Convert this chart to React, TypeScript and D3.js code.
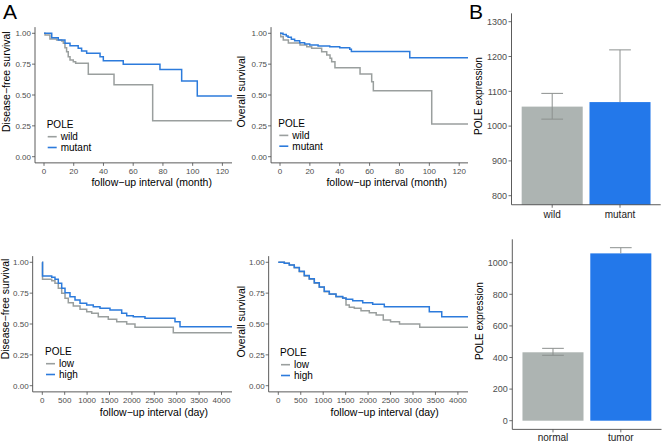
import React from 'react';
import * as d3 from 'd3';

const FONT = '"Liberation Sans", Arial, Helvetica, sans-serif';
const GREY_LINE = '#9a9f9e';
const BLUE_LINE = '#2c7bdc';
const GREY_BAR = '#adb4b2';
const BLUE_BAR = '#2378ea';
const AXIS = '#4a4a4a';
const TICK_TXT = '#4d4d4d';
const ERR = '#8c908f';

// ---- Panel A, top: months ----
const monthTicks = [0, 20, 40, 60, 80, 100, 120];
const survTicks = [0, 0.25, 0.5, 0.75, 1];
const survTickLabels = ['0.00', '0.25', '0.50', '0.75', '1.00'];

const dfsWildTime = [0, 0.7, 4, 8.5, 11.9, 13, 14.1, 15.2, 16.3, 17.5, 19.7, 21.3, 29.8, 47.1, 73.1, 150];
const dfsWildSurv = [1, 0.986, 0.954, 0.946, 0.938, 0.919, 0.883, 0.851, 0.81, 0.784, 0.77, 0.757, 0.668, 0.583, 0.292, 0.292];
const dfsMutTime = [0, 5.2, 9.6, 14.1, 17.5, 23, 25.3, 28.7, 37.7, 39.9, 53.3, 78, 92.6, 103.1, 150];
const dfsMutSurv = [1, 0.964, 0.946, 0.919, 0.9, 0.878, 0.857, 0.838, 0.81, 0.778, 0.749, 0.706, 0.613, 0.492, 0.492];

const osWildTime = [0, 0.5, 2.2, 5.6, 13.4, 17.9, 21.2, 27.9, 31.3, 33.5, 34.6, 36.8, 53.6, 61.4, 62.5, 101.6, 150];
const osWildSurv = [1, 0.973, 0.946, 0.922, 0.905, 0.891, 0.878, 0.851, 0.824, 0.797, 0.77, 0.721, 0.67, 0.608, 0.535, 0.265, 0.265];
const osMutTime = [0, 2, 4.2, 5.4, 7.6, 9.8, 13.2, 16.5, 19.9, 25.5, 33.3, 40, 46.7, 47.8, 86.9, 150];
const osMutSurv = [1, 0.99, 0.978, 0.967, 0.951, 0.94, 0.924, 0.913, 0.905, 0.897, 0.891, 0.883, 0.87, 0.853, 0.802, 0.802];

// ---- Panel A, bottom: days ----
const dayTicks = [0, 500, 1000, 1500, 2000, 2500, 3000, 3500, 4000];

const dfsLowTime = [0, 5, 210, 283, 357, 433, 507, 580, 692, 842, 991, 1103, 1250, 1473, 1661, 1884, 2069, 2924, 5000];
const dfsLowSurv = [1, 0.862, 0.851, 0.83, 0.789, 0.749, 0.708, 0.673, 0.646, 0.619, 0.6, 0.587, 0.559, 0.538, 0.519, 0.5, 0.473, 0.43, 0.43];
const dfsHighTime = [0, 5, 210, 283, 357, 433, 507, 618, 730, 842, 991, 1138, 1288, 1511, 1772, 1884, 2031, 2292, 2962, 3074, 5000];
const dfsHighSurv = [1, 0.889, 0.878, 0.862, 0.83, 0.789, 0.754, 0.721, 0.694, 0.668, 0.654, 0.64, 0.627, 0.613, 0.587, 0.567, 0.559, 0.546, 0.519, 0.478, 0.478];

const osLowTime = [0, 134, 245, 356, 468, 579, 690, 802, 913, 1024, 1136, 1285, 1434, 1508, 1581, 1693, 1842, 2027, 2180, 2338, 2500, 2700, 3150, 5000];
const osLowSurv = [1, 0.992, 0.978, 0.956, 0.924, 0.889, 0.862, 0.83, 0.797, 0.762, 0.741, 0.721, 0.708, 0.654, 0.635, 0.627, 0.608, 0.592, 0.573, 0.532, 0.519, 0.5, 0.473, 0.473];
const osHighTime = [0, 134, 245, 356, 468, 579, 690, 802, 913, 1024, 1136, 1285, 1434, 1508, 1657, 1880, 2102, 2361, 3363, 3640, 5000];
const osHighSurv = [1, 0.992, 0.978, 0.958, 0.928, 0.894, 0.866, 0.834, 0.8, 0.765, 0.744, 0.723, 0.71, 0.7, 0.689, 0.673, 0.66, 0.64, 0.6, 0.559, 0.559];

// ---- Panel B ----
const mutCats = ['wild', 'mutant'];
const mutMean = [1056, 1069];
const mutLow = [1020, 1069];
const mutHigh = [1094, 1219];
const mutTicks = [800, 900, 1000, 1100, 1200, 1300];

const tisCats = ['normal', 'tumor'];
const tisMean = [433, 1059];
const tisLow = [414, 1059];
const tisHigh = [458, 1095];
const tisTicks = [0, 200, 400, 600, 800, 1000];

type Series = { label: string; time: number[]; surv: number[]; color: string };

interface SurvProps {
  id: string;
  clip: [number, number, number, number];
  xDomain: [number, number];
  xRange: [number, number];
  yRange: [number, number];
  xMin: number;
  xMax: number;
  xTicks: number[];
  series: Series[];
  xTitle: string;
  yTitle: string;
  xTitlePos: [number, number];
  yTitlePos: [number, number];
  legendPos: [number, number];
}

function SurvPanel(p: SurvProps) {
  const x = d3.scaleLinear().domain(p.xDomain).range(p.xRange);
  const y = d3.scaleLinear().domain([0, 1]).range(p.yRange);
  const line = d3
    .line<[number, number]>()
    .x((d) => x(d[0]))
    .y((d) => y(d[1]))
    .curve(d3.curveStepAfter);
  const x0 = x(p.xMin);
  const x1 = x(p.xMax);
  const yb = y(-0.05);
  const yt = y(1.05);
  const [lx, ly] = p.legendPos;
  return (
    <g>
      <defs>
        <clipPath id={p.id}>
          <rect x={p.clip[0]} y={p.clip[1]} width={p.clip[2]} height={p.clip[3]} />
        </clipPath>
      </defs>
      <g clipPath={`url(#${p.id})`}>
        {p.series.map((s) => (
          <path
            key={s.label}
            d={line(s.time.map((t, i) => [t, s.surv[i]] as [number, number])) || ''}
            fill="none"
            stroke={s.color}
            strokeWidth={1.5}
          />
        ))}
        <line x1={x0} x2={x0} y1={yt} y2={yb} stroke={AXIS} strokeWidth={0.9} />
        <line x1={x0} x2={x1} y1={yb} y2={yb} stroke={AXIS} strokeWidth={0.9} />
        {survTicks.map((t, i) => (
          <g key={'y' + t}>
            <line x1={x0 - 3} x2={x0} y1={y(t)} y2={y(t)} stroke={AXIS} strokeWidth={0.8} />
            <text x={x0 - 4} y={y(t) + 2.9} textAnchor="end" fontSize={8} fill={TICK_TXT}>
              {survTickLabels[i]}
            </text>
          </g>
        ))}
        {p.xTicks.map((t) => (
          <g key={'x' + t}>
            <line x1={x(t)} x2={x(t)} y1={yb} y2={yb + 3} stroke={AXIS} strokeWidth={0.8} />
            <text x={x(t)} y={yb + 10.8} textAnchor="middle" fontSize={8} fill={TICK_TXT}>
              {t}
            </text>
          </g>
        ))}
        <text x={p.xTitlePos[0]} y={p.xTitlePos[1]} textAnchor="middle" fontSize={10.5} fill="#000">
          {p.xTitle}
        </text>
        <text
          transform={`translate(${p.yTitlePos[0]},${p.yTitlePos[1]}) rotate(-90)`}
          textAnchor="middle"
          fontSize={10.5}
          fill="#000"
        >
          {p.yTitle}
        </text>
        <text x={lx - 1} y={ly} fontSize={10} fill="#000">POLE</text>
        {p.series.map((s, i) => (
          <g key={'lg' + s.label}>
            <line x1={lx} x2={lx + 9} y1={ly + 8.7 + i * 10.8} y2={ly + 8.7 + i * 10.8} stroke={s.color} strokeWidth={1.6} />
            <text x={lx + 13} y={ly + 12.3 + i * 10.8} fontSize={10} fill="#000">
              {s.label}
            </text>
          </g>
        ))}
      </g>
    </g>
  );
}

interface BarProps {
  cats: string[];
  mean: number[];
  low: number[];
  high: number[];
  yDomain: [number, number];
  yRange: [number, number];
  yMin: number;
  yMax: number;
  base: number;
  ticks: number[];
  xRange: [number, number];
  yTitlePos: [number, number];
  labelY: number;
}

function BarPanel(p: BarProps) {
  const y = d3.scaleLinear().domain(p.yDomain).range(p.yRange);
  const x = d3.scalePoint<string>().domain(p.cats).range(p.xRange).padding(0.6);
  const bw = x.step() * 0.9;
  const cw = x.step() * 0.32;
  const colors = [GREY_BAR, BLUE_BAR];
  const yb = y(p.yMin);
  const yt = y(p.yMax);
  const ax = p.xRange[0];
  return (
    <g>
      {p.cats.map((c, i) => {
        const cx = x(c) as number;
        const top = y(p.mean[i]);
        return (
          <g key={c}>
            <rect x={cx - bw / 2} y={top} width={bw} height={y(p.base) - top} fill={colors[i]} />
            <line x1={cx} x2={cx} y1={y(p.high[i])} y2={y(p.low[i])} stroke={ERR} strokeWidth={1} />
            <line x1={cx - cw / 2} x2={cx + cw / 2} y1={y(p.high[i])} y2={y(p.high[i])} stroke={ERR} strokeWidth={1} />
            {p.low[i] < p.mean[i] && (
              <line x1={cx - cw / 2} x2={cx + cw / 2} y1={y(p.low[i])} y2={y(p.low[i])} stroke={ERR} strokeWidth={1} />
            )}
            <line x1={cx} x2={cx} y1={yb} y2={yb + 3} stroke={AXIS} strokeWidth={0.8} />
            <text x={cx} y={p.labelY} textAnchor="middle" fontSize={10} fill="#222">
              {c}
            </text>
          </g>
        );
      })}
      <line x1={ax} x2={ax} y1={yt} y2={yb} stroke={AXIS} strokeWidth={0.9} />
      <line x1={ax} x2={p.xRange[1]} y1={yb} y2={yb} stroke={AXIS} strokeWidth={0.9} />
      {p.ticks.map((t) => (
        <g key={t}>
          <line x1={ax - 3} x2={ax} y1={y(t)} y2={y(t)} stroke={AXIS} strokeWidth={0.8} />
          <text x={ax - 4.5} y={y(t) + 3.2} textAnchor="end" fontSize={9} fill={TICK_TXT}>
            {t}
          </text>
        </g>
      ))}
      <text
        transform={`translate(${p.yTitlePos[0]},${p.yTitlePos[1]}) rotate(-90)`}
        textAnchor="middle"
        fontSize={10}
        fill="#000"
      >
        POLE expression
      </text>
    </g>
  );
}

export default function App() {
  return (
    <svg
      width={662}
      height={442}
      style={{ position: 'absolute', left: 0, top: 0, background: '#fff' }}
      fontFamily={FONT}
    >
      <rect x={0} y={0} width={662} height={442} fill="#fff" />
      <text x={3} y={19.3} fontSize={21} fill="#000">A</text>
      <text x={469} y={19.3} fontSize={21} fill="#000">B</text>

      <SurvPanel
        id="c1"
        clip={[0, 0, 232, 221]}
        xDomain={[0, 120]}
        xRange={[44, 222.4]}
        yRange={[156.7, 33.3]}
        xMin={-6.05}
        xMax={150}
        xTicks={monthTicks}
        series={[
          { label: 'wild', time: dfsWildTime, surv: dfsWildSurv, color: GREY_LINE },
          { label: 'mutant', time: dfsMutTime, surv: dfsMutSurv, color: BLUE_LINE },
        ]}
        xTitle="follow−up interval (month)"
        yTitle="Disease−free survival"
        xTitlePos={[151.7, 186]}
        yTitlePos={[9.5, 81.7]}
        legendPos={[47.7, 128]}
      />
      <SurvPanel
        id="c2"
        clip={[232, 0, 236, 221]}
        xDomain={[0, 120]}
        xRange={[280, 459.2]}
        yRange={[156.7, 33.3]}
        xMin={-6}
        xMax={150}
        xTicks={monthTicks}
        series={[
          { label: 'wild', time: osWildTime, surv: osWildSurv, color: GREY_LINE },
          { label: 'mutant', time: osMutTime, surv: osMutSurv, color: BLUE_LINE },
        ]}
        xTitle="follow−up interval (month)"
        yTitle="Overall survival"
        xTitlePos={[386.7, 186]}
        yTitlePos={[245, 91.7]}
        legendPos={[279.3, 126.7]}
      />
      <SurvPanel
        id="c3"
        clip={[0, 221, 232, 221]}
        xDomain={[0, 4000]}
        xRange={[42.3, 221.5]}
        yRange={[385.7, 262.3]}
        xMin={-215}
        xMax={5000}
        xTicks={dayTicks}
        series={[
          { label: 'low', time: dfsLowTime, surv: dfsLowSurv, color: GREY_LINE },
          { label: 'high', time: dfsHighTime, surv: dfsHighSurv, color: BLUE_LINE },
        ]}
        xTitle="follow−up interval (day)"
        yTitle="Disease−free survival"
        xTitlePos={[154, 415.5]}
        yTitlePos={[9.3, 309]}
        legendPos={[46, 355]}
      />
      <SurvPanel
        id="c4"
        clip={[232, 221, 236, 221]}
        xDomain={[0, 4000]}
        xRange={[278.3, 457.9]}
        yRange={[385.7, 262.3]}
        xMin={-215}
        xMax={5000}
        xTicks={dayTicks}
        series={[
          { label: 'low', time: osLowTime, surv: osLowSurv, color: GREY_LINE },
          { label: 'high', time: osHighTime, surv: osHighSurv, color: BLUE_LINE },
        ]}
        xTitle="follow−up interval (day)"
        yTitle="Overall survival"
        xTitlePos={[384.7, 415.5]}
        yTitlePos={[245, 321.7]}
        legendPos={[281, 356]}
      />

      <BarPanel
        cats={mutCats}
        mean={mutMean}
        low={mutLow}
        high={mutHigh}
        yDomain={[800, 1300]}
        yRange={[195.7, 21.7]}
        yMin={774}
        yMax={1324}
        base={774}
        ticks={mutTicks}
        xRange={[511.5, 660.7]}
        yTitlePos={[481.5, 96]}
        labelY={218}
      />
      <BarPanel
        cats={tisCats}
        mean={tisMean}
        low={tisLow}
        high={tisHigh}
        yDomain={[0, 1000]}
        yRange={[420.7, 262.7]}
        yMin={-55}
        yMax={1148}
        base={0}
        ticks={tisTicks}
        xRange={[512.3, 661.5]}
        yTitlePos={[483, 321]}
        labelY={441}
      />
    </svg>
  );
}
